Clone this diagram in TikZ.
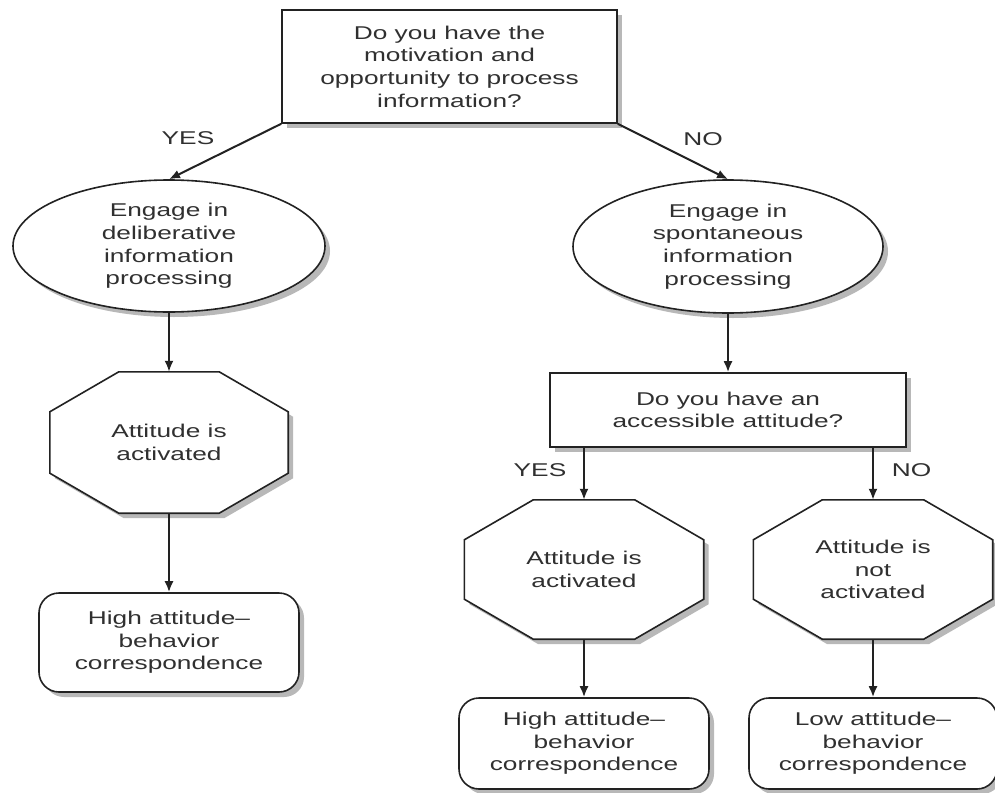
\documentclass[tikz,border=0pt]{standalone}
\usepackage{fontspec}
\setmainfont{Liberation Sans}[FakeStretch=1.42]
\usetikzlibrary{shapes.geometric,shadows,arrows.meta}
\pgfdeclarelayer{bg}
\pgfdeclarelayer{paper}
\pgfsetlayers{paper,bg,main}
\definecolor{txt}{HTML}{303030}
\definecolor{ln}{HTML}{222222}
\tikzset{
  shadowstyle/.style={drop shadow={shadow xshift=5pt,shadow yshift=-5pt,fill=black!28,opacity=1}},
  base/.style={align=center,inner sep=0pt,text=txt,font=\fontsize{18.5pt}{22.7pt}\selectfont},
  boxq/.style={base,draw=ln,line width=1.6pt,fill=white,shadowstyle,rectangle},
  ell/.style={base,draw=ln,line width=1.6pt,fill=white,shadowstyle,ellipse},
  rbox/.style={base,draw=ln,line width=1.6pt,fill=white,shadowstyle,rectangle,rounded corners=20pt},
  octo/.style={base,rectangle},
  octline/.style={draw=ln,line width=1.6pt,fill=white,shadowstyle},
  arr/.style={draw=ln,line width=2pt,-{Latex[length=11pt,width=9pt]}},
  lab/.style={text=txt,font=\fontsize{18.5pt}{22.7pt}\selectfont,inner sep=0pt}
}
\newcommand\myocto[3]{%
  \path[octline] ([xshift=#2]#1.north west) -- ([xshift=-#2]#1.north east)
    -- ([yshift=-#3]#1.north east) -- ([yshift=#3]#1.south east)
    -- ([xshift=-#2]#1.south east) -- ([xshift=#2]#1.south west)
    -- ([yshift=#3]#1.south west) -- ([yshift=-#3]#1.north west) -- cycle;}
\begin{document}
\begin{tikzpicture}[x=1pt,y=-1pt]
\useasboundingbox (0,0) rectangle (995,792);
\begin{pgfonlayer}{paper}
  \fill[white] (0,0) rectangle (995,792);
\end{pgfonlayer}

\node[boxq,minimum width=335pt,minimum height=113pt] (q1) at (449.5,66.5)
  {Do you have the\\motivation and\\opportunity to process\\information?};
\node[ell,minimum width=312pt,minimum height=132pt] (e1) at (169,246)
  {Engage in\\deliberative\\information\\processing};
\node[ell,minimum width=310pt,minimum height=133pt] (e2) at (728,246.5)
  {Engage in\\spontaneous\\information\\processing};
\node[octo,minimum width=238pt,minimum height=141pt] (o1) at (169,442.5)
  {Attitude is\\activated};
\node[rbox,minimum width=260pt,minimum height=99pt] (r1) at (169,642.5)
  {High attitude–\\behavior\\correspondence};
\node[boxq,minimum width=356pt,minimum height=74pt] (q2) at (728,410)
  {Do you have an\\accessible attitude?};
\node[octo,minimum width=239pt,minimum height=139pt] (o2) at (584,569.5)
  {Attitude is\\activated};
\node[octo,minimum width=239pt,minimum height=139pt] (o3) at (873,569.5)
  {Attitude is\\not\\activated};
\node[rbox,minimum width=250pt,minimum height=91pt] (r2) at (584,743.5)
  {High attitude–\\behavior\\correspondence};
\node[rbox,minimum width=248pt,minimum height=91pt] (r3) at (873,743.5)
  {Low attitude–\\behavior\\correspondence};

\begin{pgfonlayer}{bg}
  \myocto{o1}{69pt}{40pt}
  \myocto{o2}{69pt}{40pt}
  \myocto{o3}{69pt}{40pt}
\end{pgfonlayer}

\node[lab] (yes1) at (188,138) {YES};
\node[lab] (no1) at (703,139) {NO};
\node[lab] (yes2) at (540,470) {YES};
\node[lab] (no2) at (911.5,470) {NO};

\draw[arr] (q1.south west) -- (e1.north);
\draw[arr] (q1.south east) -- (e2.north);
\draw[arr] (e1.south) -- (o1.north);
\draw[arr] (o1.south) -- (r1.north);
\draw[arr] (e2.south) -- (q2.north);
\draw[arr] (q2.south -| o2.north) -- (o2.north);
\draw[arr] (q2.south -| o3.north) -- (o3.north);
\draw[arr] (o2.south) -- (r2.north);
\draw[arr] (o3.south) -- (r3.north);
\end{tikzpicture}
\end{document}
